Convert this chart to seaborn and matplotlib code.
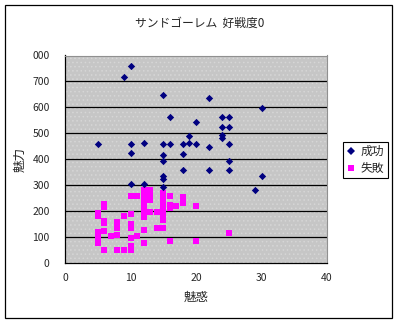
import matplotlib
matplotlib.use("Agg")
import matplotlib.pyplot as plt
from matplotlib.patches import Rectangle
from matplotlib.lines import Line2D
import seaborn as sns
import pandas as pd

# 成功 (success) samples: 魅惑 vs 魅力
success_x = [10, 9, 15, 16, 20, 19, 5, 10, 12, 15, 16, 18, 19, 10, 15, 18,
             15, 18, 15, 15, 10, 12, 15, 22, 30, 24, 25, 24, 25, 24, 24, 20,
             22, 25, 25, 22, 25, 30, 29]
success_y = [760, 719, 646, 561, 544, 490, 457, 457, 461, 457, 457, 457, 461, 423, 416, 421,
             394, 360, 335, 325, 306, 306, 292, 636, 597, 561, 561, 524, 524, 495, 482, 457,
             447, 457, 394, 360, 360, 335, 281]

# 失敗 (failure) samples
fail_x = [5, 5, 5, 5, 5,
          6, 6, 6, 6, 6, 6,
          7,
          8, 8, 8, 8,
          9, 9,
          10, 10, 10, 10, 10, 10, 10,
          11, 11,
          12, 12, 12, 12, 12, 12, 12, 12,
          13, 13, 13, 13,
          14, 14,
          15, 15, 15, 15, 15, 15, 15,
          16, 16, 16, 16,
          17,
          18, 18, 18,
          20, 20,
          25]
fail_y = [193, 183, 120, 100, 78,
          226, 216, 162, 154, 122, 50,
          105,
          159, 136, 109, 50,
          181, 50,
          258, 188, 150, 135, 96, 65, 50,
          258, 105,
          280, 260, 240, 220, 197, 176, 127, 78,
          280, 260, 241, 196,
          196, 136,
          269, 250, 230, 210, 190, 167, 136,
          258, 225, 211, 84,
          218,
          255, 245, 233,
          218, 84,
          115]

title = "サンドゴーレム  好戦度0"
x_label = "魅惑"
y_label = "魅力"
series_names = ["成功", "失敗"]
x_ticks = [0, 10, 20, 30, 40]
y_ticks = [0, 100, 200, 300, 400, 500, 600, 700, 800]
y_tick_labels = ["0", "100", "200", "300", "400", "500", "600", "700", "000"]

sns.set_style("white")
plt.rcParams["font.family"] = ["Noto Sans CJK JP", "DejaVu Sans"]
plt.rcParams["hatch.linewidth"] = 0.6

navy = "#000080"
magenta = "#FF00FF"

fig = plt.figure(figsize=(4.0, 3.25), dpi=100)
fig.patch.set_facecolor("white")
ax = fig.add_axes([65 / 400, 1 - 263 / 325, 262 / 400, 207.5 / 325])

# dotted grey plot area
ax.set_facecolor("#c6c6c6")
ax.add_patch(Rectangle((0, 0), 1, 1, transform=ax.transAxes, facecolor="none",
                       edgecolor="#d6d6d6", hatch="....", linewidth=0, zorder=0))
ax.set_axisbelow(True)

df_s = pd.DataFrame({"x": success_x, "y": success_y})
df_f = pd.DataFrame({"x": fail_x, "y": fail_y})

sns.scatterplot(data=df_f, x="x", y="y", ax=ax, marker="s", s=19,
                color=magenta, linewidth=0, zorder=3, legend=False)
sns.scatterplot(data=df_s, x="x", y="y", ax=ax, marker="D", s=14,
                color=navy, linewidth=0, zorder=4, legend=False)

ax.set_xlim(0, 40)
ax.set_ylim(0, 800)
ax.set_xticks(x_ticks)
ax.set_xticklabels([str(t) for t in x_ticks])
ax.set_yticks(y_ticks)
ax.set_yticklabels(y_tick_labels)
ax.tick_params(axis="x", direction="in", length=3, width=0.8, color="black",
               labelsize=7.5, pad=7)
ax.tick_params(axis="y", length=0, labelsize=7.5, pad=11)

for yv in y_ticks[1:-1]:
    ax.axhline(yv, color="black", linewidth=0.9, zorder=1)

for side in ["top", "right"]:
    ax.spines[side].set_color("#909090")
    ax.spines[side].set_linewidth(0.8)
for side in ["left", "bottom"]:
    ax.spines[side].set_color("black")
    ax.spines[side].set_linewidth(0.9)

ax.set_xlabel(x_label, fontsize=9, labelpad=6)
ax.set_ylabel(y_label, fontsize=9, labelpad=4)
fig.text(200 / 400, 1 - 23 / 325, title, ha="center", va="center", fontsize=8.5)

handles = [
    Line2D([], [], marker="D", linestyle="none", color=navy, markersize=3.7,
           markeredgewidth=0),
    Line2D([], [], marker="s", linestyle="none", color=magenta, markersize=4.3,
           markeredgewidth=0),
]
leg = fig.legend(handles, series_names, loc="center left",
                 bbox_to_anchor=(343 / 400, 1 - 160 / 325), frameon=True,
                 fancybox=False, edgecolor="black", framealpha=1,
                 fontsize=8.5, handlelength=0.8, handletextpad=0.4,
                 borderpad=0.3, labelspacing=0.3, borderaxespad=0)
leg.get_frame().set_linewidth(0.8)

# chart border
fig.add_artist(Rectangle((5 / 400, 1 - 318 / 325), 387 / 400, 313 / 325,
                         transform=fig.transFigure, fill=False,
                         edgecolor="black", linewidth=0.9))

fig.savefig("out.png", dpi=100)
